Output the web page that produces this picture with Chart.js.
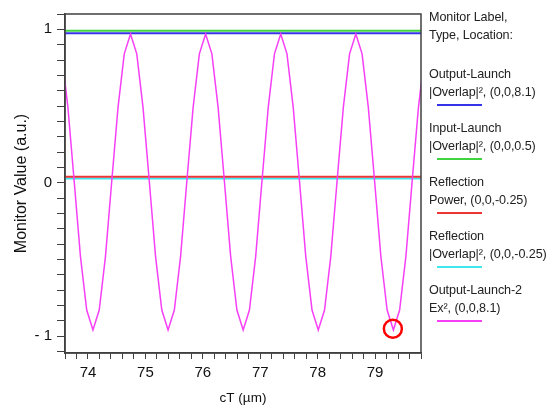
<!DOCTYPE html>
<html>
<head>
<meta charset="utf-8">
<script src="https://cdn.jsdelivr.net/npm/chart.js@4.4.1/dist/chart.umd.min.js"></script>
<style>
  html, body { margin: 0; padding: 0; background: #fff; }
  #wrap { position: relative; width: 548px; height: 407px; }
  #plot { position: absolute; left: 0; top: 0; }
  .leg { position: absolute; left: 429px; font-family: Arial, "Liberation Sans", sans-serif;
         font-size: 12.6px; letter-spacing: -0.1px; line-height: 18px; color: #222; white-space: nowrap; }
  .bar { position: absolute; left: 8px; top: 39px; width: 45px; height: 2px; }
</style>
</head>
<body>
<div id="wrap">
  <canvas id="plot" width="548" height="407"></canvas>
  <div class="leg" style="top:8px">Monitor Label,<br>Type, Location:</div>
  <div id="legend"></div>
</div>
<script>
// sweep position cT (um) and the Ex^2 monitor reading
const cT = [
  73.542, 73.651, 73.760, 73.869, 73.978,
  74.087, 74.196, 74.305, 74.414, 74.523, 74.632, 74.741, 74.850, 74.959, 75.068, 75.177, 75.286,
  75.395, 75.504, 75.613, 75.722, 75.831, 75.940, 76.049, 76.158, 76.267, 76.376, 76.485, 76.594,
  76.703, 76.812, 76.921, 77.030, 77.139, 77.248, 77.357, 77.466, 77.575, 77.684, 77.793, 77.902,
  78.011, 78.120, 78.229, 78.338, 78.447, 78.556, 78.665, 78.774, 78.883, 78.992, 79.101, 79.210,
  79.319, 79.428, 79.537, 79.646, 79.755, 79.864
]
const ex2 = [
  0.84, 0.49, 0.01, -0.48, -0.83,
  -0.96, -0.83, -0.48, 0.01, 0.49, 0.84, 0.97, 0.84, 0.49, 0.01, -0.48, -0.83,
  -0.96, -0.83, -0.48, 0.01, 0.49, 0.84, 0.97, 0.84, 0.49, 0.01, -0.48, -0.83,
  -0.96, -0.83, -0.48, 0.01, 0.49, 0.84, 0.97, 0.84, 0.49, 0.01, -0.48, -0.83,
  -0.96, -0.83, -0.48, 0.01, 0.49, 0.84, 0.97, 0.84, 0.49, 0.01, -0.48, -0.83,
  -0.96, -0.83, -0.48, 0.01, 0.49, 0.84
]

// flat monitors (constant over the sweep)
const monitorNames = ['Output-Launch', 'Input-Launch', 'Reflection', 'Reflection', 'Output-Launch-2']
const monitorTypes = ['|Overlap|\u00b2, (0,0,8.1)', '|Overlap|\u00b2, (0,0,0.5)', 'Power, (0,0,-0.25)',
                      '|Overlap|\u00b2, (0,0,-0.25)', 'Ex\u00b2, (0,0,8.1)']
const monitorColors = ['#3434e6', '#3fd43f', '#ee3535', '#3fe6ee', '#f640f6']
const flatValues = [0.974, 0.99, 0.039, 0.028]

// marked minimum
const marker = { x: 79.31, y: -0.952 }

const xRange = [73.6, 79.8]
const yRange = [-1.11, 1.1]

const font = 'Arial, "Liberation Sans", sans-serif'
const axisColor = '#404040'

// legend on the right
const legend = document.getElementById('legend')
monitorNames.forEach((name, i) => {
  let d = document.createElement('div')
  d.className = 'leg'
  d.style.top = (65 + i * 54) + 'px'
  d.innerHTML = name + '<br>' + monitorTypes[i] + '<div class="bar" style="background:' + monitorColors[i] + '"></div>'
  legend.appendChild(d)
})

const datasets = []
datasets.push({
  data: [marker],
  showLine: false,
  pointRadius: 9,
  pointBorderWidth: 2.5,
  pointBorderColor: '#ff0000',
  pointBackgroundColor: 'rgba(0,0,0,0)',
})
datasets.push({
  data: cT.map((x, i) => ({ x: x, y: ex2[i] })),
  borderColor: monitorColors[4],
  borderWidth: 1.5,
  pointRadius: 0,
  tension: 0,
})
flatValues.forEach((v, i) => {
  datasets.push({
    data: [{ x: xRange[0], y: v }, { x: xRange[1], y: v }],
    borderColor: monitorColors[i],
    borderWidth: 2,
    pointRadius: 0,
  })
})

const isWhole = v => Math.abs(v - Math.round(v)) < 1e-6

// box around the plot area
const frame = {
  id: 'frame',
  afterDraw(chart) {
    const a = chart.chartArea, ctx = chart.ctx
    ctx.save()
    ctx.strokeStyle = axisColor
    ctx.lineWidth = 1.5
    ctx.strokeRect(a.left, a.top, a.right - a.left, a.bottom - a.top)
    ctx.restore()
  }
}

const ctx = document.getElementById('plot').getContext('2d')
const chart = new Chart(ctx, {
  type: 'line',
  data: { datasets: datasets },
  plugins: [frame],
  options: {
    responsive: false,
    animation: false,
    devicePixelRatio: 1,
    layout: { padding: { top: 11, right: 127, left: 0, bottom: 0 } },
    plugins: { legend: { display: false }, tooltip: { enabled: false } },
    scales: {
      x: {
        type: 'linear',
        min: xRange[0],
        max: xRange[1],
        afterFit(scale) { scale.height = 54 },
        border: { color: axisColor, width: 1.5 },
        grid: { drawOnChartArea: false, tickLength: 6, color: axisColor },
        ticks: {
          stepSize: 0.2,
          includeBounds: false,
          autoSkip: false,
          maxRotation: 0,
          padding: 5,
          color: '#111',
          font: { family: font, size: 15 },
          callback: v => isWhole(v) ? String(Math.round(v)) : ''
        },
        title: { display: true, text: 'cT (\u00b5m)', color: '#111',
                 font: { family: font, size: 13.5 }, padding: { top: 0, bottom: 1 } }
      },
      y: {
        type: 'linear',
        min: yRange[0],
        max: yRange[1],
        afterFit(scale) { scale.width = 65 },
        border: { color: axisColor, width: 1.5 },
        grid: { drawOnChartArea: false, tickLength: 8, color: axisColor },
        ticks: {
          stepSize: 0.1,
          includeBounds: false,
          autoSkip: false,
          padding: 5,
          color: '#111',
          font: { family: font, size: 15 },
          callback: v => isWhole(v) ? (Math.round(v) < 0 ? '- ' + Math.abs(Math.round(v)) : String(Math.round(v))) : ''
        },
        title: { display: true, text: 'Monitor Value (a.u.)', color: '#111',
                 font: { family: font, size: 16 }, padding: { top: 12, bottom: 0 } }
      }
    }
  }
})
</script>
</body>
</html>
